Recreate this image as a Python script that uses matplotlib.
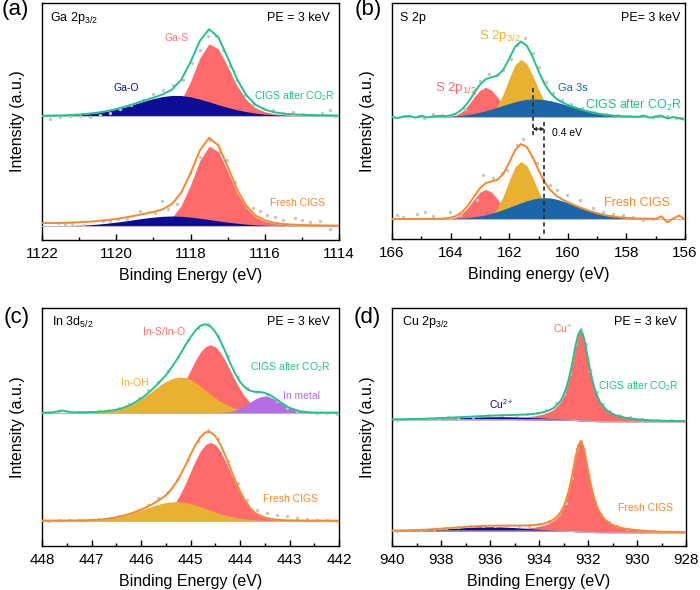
import numpy as np
import matplotlib
matplotlib.use('Agg')
import matplotlib.pyplot as plt
from matplotlib.ticker import MultipleLocator, FormatStrFormatter

plt.rcParams['font.family'] = ['Liberation Sans', 'DejaVu Sans']
plt.rcParams['mathtext.fontset'] = 'custom'
plt.rcParams['mathtext.rm'] = 'Liberation Sans'

# colours
GREEN = '#1ec48c'
ORANGE = '#f7892b'
RED = '#ff6b6b'
NAVY = '#0c0c94'
GOLD = '#e9b12f'
BLUE = '#1b66a8'
PURPLE = '#b56ce6'
DOT = '#c4c4ca'
BASE = '#b8b8b8'

# ---------------- (a) Ga 2p3/2 ----------------
ga_energy = np.arange(1122.0, 1113.99, -0.25)
ga_after_gas = [0.1, 0.1, 0.1, 0.2, 0.2, 0.2, 0.2, 0.3, 0.3, 0.4, 0.5, 0.6, 1.0, 2.1, 5.8, 15.8, 34.7,
                58.2, 72.6, 67.4, 49.8, 30.7, 16.6, 8.4, 4.6, 2.6, 1.6, 1.2, 0.9, 0.7, 0.6, 0.5, 0.4]
ga_after_gao = [0.5, 0.6, 0.8, 1.1, 1.6, 2.4, 3.5, 5.0, 7.0, 9.4, 12.2, 15.1, 17.7, 19.8, 20.9, 20.8, 19.5,
                17.2, 14.5, 11.6, 8.9, 6.6, 4.7, 3.2, 2.2, 1.5, 1.1, 0.8, 0.6, 0.5, 0.4, 0.4, 0.3]
ga_fresh_gas = [0.2, 0.2, 0.2, 0.2, 0.3, 0.3, 0.4, 0.4, 0.5, 0.7, 0.8, 1.1, 1.7, 3.5, 8.7, 20.7, 41.3,
                65.6, 80.2, 74.6, 55.0, 34.0, 18.4, 9.3, 5.0, 2.9, 1.8, 1.3, 1.0, 0.8, 0.7, 0.6, 0.5]
ga_fresh_gao = [0.3, 0.4, 0.5, 0.7, 1.1, 1.5, 2.2, 3.1, 4.2, 5.4, 6.8, 8.1, 9.2, 10.0, 10.3, 10.0, 9.2,
                8.1, 6.8, 5.4, 4.2, 3.1, 2.2, 1.5, 1.1, 0.7, 0.5, 0.4, 0.3, 0.25, 0.2, 0.2, 0.2]
ga_fresh_bg = [2.7, 2.7, 2.7, 2.7, 2.7, 2.7, 2.7, 2.7, 2.7, 2.8, 3.0, 3.3, 3.5, 3.5, 3.3, 3.0, 2.5,
               2.1, 1.5, 0.9, 0.5, 0.25, 0.1, 0, 0, 0, 0, 0, 0, 0, 0, 0, 0]
ga_after_dot_e = [1121.78, 1121.52, 1121.25, 1120.98, 1120.71, 1120.44, 1120.17, 1119.9, 1119.59, 1119.27,
                  1119.0, 1118.73, 1118.46, 1118.21, 1117.97, 1117.74, 1117.52, 1117.31, 1117.12, 1116.94,
                  1116.74, 1116.53, 1116.31, 1116.04, 1115.77, 1115.5, 1115.23, 1114.96, 1114.69, 1114.47,
                  1114.24, 1114.11]
ga_after_dot_y = [-2.3, -1.0, 0.3, 0.0, -0.3, 1.3, 3.3, 7.3, 11.3, 16.7, 22.7, 26.0, 31.7, 36.7, 53.3, 66.7,
                  80.7, 80.0, 66.7, 50.7, 36.7, 21.7, 12.7, 8.3, 6.0, 3.3, 4.3, 2.7, 1.0, 3.0, 6.7, 0.7]
ga_fresh_dot_e = [1121.56, 1121.38, 1121.2, 1120.89, 1120.35, 1120.17, 1119.94, 1119.72, 1119.36, 1118.96,
                  1118.76, 1118.6, 1118.37, 1118.01, 1117.74, 1117.48, 1117.21, 1117.03, 1116.8, 1116.49,
                  1116.31, 1116.13, 1115.95, 1115.73, 1115.5, 1115.19, 1115.01, 1114.78, 1114.51, 1114.24]
ga_fresh_dot_y = [3.7, 2.3, 2.3, 1.3, 5.3, 5.7, 7.0, 7.7, 15.3, 13.0, 25.3, 17.0, 22.3, 53.0, 69.7, 86.3,
                  74.7, 66.3, 44.7, 19.7, 18.0, 15.7, 11.3, 9.7, 6.3, 8.0, 6.3, 4.3, 5.3, -2.3]

# ---------------- (b) S 2p ----------------
s_energy = np.linspace(166.0, 156.0, 51)
s_after_s12 = [0] * 9 + [0.2, 0.8, 2.4, 6.0, 12.2, 20.1, 27.1, 30.0, 27.1, 20.1, 12.2, 6.0, 2.4, 0.8, 0.2] + [0] * 27
s_after_s32 = [0] * 14 + [0.1, 0.4, 1.6, 4.7, 11.6, 23.5, 38.8, 52.5, 58.0, 53.5, 42.0, 28.0, 16.0, 8.0,
                          3.5, 1.5, 0.6, 0.2] + [0] * 19
s_after_ga3s = [0.2, 0.3, 0.3, 0.3, 0.4, 0.4, 0.5, 0.6, 0.7, 0.9, 1.2, 1.6, 2.2, 2.9, 3.9, 5.1, 6.6, 8.3,
                10.1, 12.0, 13.9, 15.6, 17.0, 18.0, 18.3, 18.2, 17.6, 16.6, 15.2, 13.6, 11.8, 10.0, 8.3,
                6.6, 5.1, 3.9, 2.9, 2.2, 1.6, 1.2, 0.9, 0.7, 0.6, 0.5, 0.4, 0.4, 0.3, 0.3, 0.3, 0.2, 0.2]
s_after_noise = [0, -1.0, 0.7, 1.0, -0.7, 1.3, -0.7, 0.3, 0.7, 0, 0] + [0] * 31 + \
                [0, 1.2, -0.8, 0.5, 1.3, -1.5, 0, -1.2, -2.7]
s_fresh_s12 = [0] * 9 + [0.2, 0.8, 2.4, 6.0, 12.2, 20.1, 27.1, 30.0, 27.1, 20.1, 12.2, 6.0, 2.4, 0.8, 0.2] + [0] * 27
s_fresh_s32 = [0] * 14 + [0.1, 0.4, 1.6, 4.7, 11.6, 23.5, 38.8, 52.5, 58.0, 53.5, 42.0, 28.0, 16.0, 8.0,
                          3.5, 1.5, 0.6, 0.2] + [0] * 19
s_fresh_ga3s = [0.2, 0.3, 0.3, 0.3, 0.4, 0.4, 0.5, 0.5, 0.6, 0.7, 0.8, 1.1, 1.4, 1.9, 2.6, 3.4, 4.6, 6.1,
                7.8, 9.8, 12.0, 14.2, 16.5, 18.5, 20.2, 21.3, 21.7, 21.3, 20.2, 18.5, 16.5, 14.2, 12.0,
                9.8, 7.8, 6.1, 4.6, 3.4, 2.6, 1.9, 1.4, 1.1, 0.8, 0.7, 0.6, 0.5, 0.5, 0.4, 0.4, 0.3, 0.3]
s_fresh_noise = [0] * 45 + [0, 2.5, -3.5, 0.5, 3.5, -0.5]
s_after_dot_e = [165.4, 164.9, 164.6, 164.3, 163.9, 163.5, 163.2, 163.0, 162.7, 162.4, 162.2, 161.95,
                 161.75, 161.45, 161.2, 161.0, 160.75, 160.5, 160.2, 159.9, 159.5, 159.1, 158.7, 158.3,
                 157.9, 157.5, 157.1, 156.6, 156.3]
s_after_dot_y = [1.0, -0.5, 3.0, 2.0, 3.5, 8.0, 24.0, 36.0, 43.0, 42.0, 47.0, 58.0, 72.0, 79.0, 64.0,
                 50.0, 35.0, 24.0, 17.0, 13.0, 9.0, 5.5, 3.0, 2.0, 1.0, 1.5, 0.5, 1.0, -1.0]
s_fresh_dot_e = [165.84, 165.61, 165.16, 164.87, 164.59, 164.02, 163.68, 163.11, 162.88, 162.54, 162.26,
                 162.09, 161.75, 161.52, 161.23, 161.06, 160.83, 160.61, 160.38, 160.04, 159.58, 159.13,
                 158.79, 158.45, 158.1, 157.76, 157.42, 157.08]
s_fresh_dot_y = [4.3, 2.7, 5.3, 7.7, 3.3, 7.7, 4.3, 19.3, 44.3, 41.0, 46.0, 49.3, 74.3, 80.0, 62.7, 56.0,
                 41.0, 34.3, 29.3, 24.3, 19.3, 11.0, 7.7, 5.3, 4.3, 2.7, -0.7, 0.0]
ga3s_peak_e = [161.2, 160.8]

# ---------------- (c) In 3d5/2 ----------------
in_energy = [448.0, 447.8, 447.6, 447.4, 447.2, 447.0, 446.8, 446.6, 446.4, 446.2,
             446.0, 445.9, 445.8, 445.7, 445.6, 445.5, 445.4, 445.3, 445.2, 445.1,
             445.0, 444.9, 444.8, 444.7, 444.6, 444.5, 444.4, 444.3, 444.2, 444.1,
             444.0, 443.9, 443.8, 443.7, 443.6, 443.5, 443.4, 443.3, 443.2, 443.1,
             443.0, 442.8, 442.6, 442.4, 442.2, 442.0]
in_after_ins = [0, 0, 0, 0, 0, 0, 0, 0, 0.1, 0.2,
                0.5, 0.9, 1.5, 2.5, 4.1, 6.2, 10.3, 16.1, 23.5, 32.6, 42.4, 52.2, 60.5, 66.0, 68.0,
                66.0, 60.5, 52.2, 42.4, 32.6, 23.5, 16.1, 10.3, 6.2, 4.1, 2.5, 1.5, 0.9, 0.5, 0.3, 0.2,
                0.1, 0, 0, 0, 0]
in_after_inoh = [0.1, 0.1, 0.2, 0.3, 0.4, 0.6, 1.1, 2.0, 4.0, 7.8,
                 13.5, 16.9, 20.6, 24.4, 28.0, 31.1, 33.6, 35.2, 35.7, 35.2, 33.0, 30.0, 26.5, 22.5,
                 18.5, 14.8, 11.5, 8.6, 6.2, 4.3, 2.9, 2.0, 1.5, 1.1, 0.8, 0.6, 0.5, 0.4, 0.35, 0.3, 0.25,
                 0.2, 0.1, 0.1, 0.1, 0.1]
in_after_metal = [0] * 25 + [0.1, 0.2, 0.5, 1.2, 2.4, 4.4, 7.1, 10.3, 13.5, 15.8, 16.7, 15.8, 13.5,
                             10.3, 7.1, 4.4] + [1.2, 0.2, 0, 0, 0]
in_after_noise = [0, 0, 2.0] + [0] * 43
in_fresh_ins = [0, 0, 0, 0, 0, 0, 0, 0, 0.1, 0.2,
                0.6, 1.0, 1.7, 2.9, 4.7, 7.2, 11.9, 18.5, 27.1, 37.5, 48.9, 60.1, 69.7, 76.1, 78.3,
                76.1, 69.7, 60.1, 48.9, 37.5, 27.1, 18.5, 11.9, 7.2, 4.7, 2.9, 1.7, 1.0, 0.6, 0.3, 0.2,
                0.1, 0, 0, 0, 0]
in_fresh_inoh = [0.1, 0.1, 0.15, 0.2, 0.3, 0.6, 1.2, 2.4, 4.3, 7.0,
                 10.4, 12.2, 14.0, 15.6, 17.0, 18.1, 18.8, 19.0, 18.8, 18.1, 17.0, 15.6, 14.0, 12.2,
                 10.4, 8.6, 7.0, 5.5, 4.3, 3.2, 2.4, 1.7, 1.2, 0.8, 0.6, 0.4, 0.3, 0.25, 0.2, 0.2, 0.15,
                 0.1, 0.1, 0.1, 0, 0]
in_after_dot_e = [447.85, 447.65, 447.45, 447.25, 447.05, 446.85, 446.65, 446.45, 446.25, 446.05, 445.85,
                  445.65, 445.45, 445.25, 445.05, 444.85, 444.65, 444.45, 444.25, 444.05, 443.85, 443.65,
                  443.45, 443.25, 443.05, 442.85, 442.65, 442.45, 442.25, 442.05]
in_after_dot_y = [0.5, 1.0, 0.5, 1.0, 0.8, 1.5, 3.0, 5.0, 9.0, 15.0, 23.0, 31.0, 42.0, 56.0, 73.0, 85.0,
                  89.0, 77.0, 57.0, 36.0, 25.0, 21.0, 17.5, 12.0, 5.0, 2.0, 0.5, 0.0, -0.5, -1.0]
in_fresh_dot_e = in_after_dot_e
in_fresh_dot_y = [0.0, 0.5, 0.3, 0.5, 0.8, 1.5, 2.5, 4.5, 7.0, 11.0, 16.0, 23.0, 29.0, 42.0, 61.0, 80.0,
                  91.0, 82.0, 60.0, 38.0, 21.0, 11.0, 7.5, 5.5, 4.5, 3.0, 2.0, 1.0, 0.5, 0.0]

# ---------------- (d) Cu 2p3/2 ----------------
cu_energy = [940.0, 939.5, 939.0, 938.5, 938.0, 937.5, 937.0, 936.5, 936.0, 935.5, 935.0, 934.5,
             934.2, 934.0, 933.8, 933.6, 933.4, 933.2,
             933.1, 933.0, 932.9, 932.8, 932.7, 932.6, 932.5, 932.4, 932.3, 932.2, 932.1, 932.0,
             931.9, 931.8, 931.7, 931.6, 931.5,
             931.3, 931.1, 930.9, 930.7, 930.5,
             930.0, 929.5, 929.0, 928.5, 928.0]
cu_after_cu1 = [0.3, 0.3, 0.35, 0.4, 0.5, 0.6, 0.7, 0.8, 1.1, 1.4, 2.0, 2.9,
                3.9, 4.8, 6.1, 7.9, 10.7, 15.5,
                19.1, 24.0, 30.5, 38.9, 49.5, 62.0, 75.1, 85.8, 90.0, 85.8, 75.1, 62.0, 49.5, 38.9,
                30.5, 24.0, 19.1,
                12.8, 9.2, 6.9, 5.4, 4.3,
                2.7, 1.8, 1.3, 1.0, 0.8]
cu_after_cu2 = [0.1, 0.2, 0.4, 0.7, 1.1, 1.6, 2.1, 2.6, 2.9, 3.0, 2.8, 2.4,
                2.1, 1.9, 1.7, 1.5, 1.3, 1.1,
                1.0, 0.93, 0.85, 0.77, 0.7, 0.63, 0.57, 0.51, 0.45, 0.4, 0.36, 0.32, 0.28, 0.25,
                0.22, 0.19, 0.16,
                0.12, 0.09, 0.07, 0.05, 0.03,
                0.01, 0, 0, 0, 0]
cu_after_base = [2.3, 2.3, 2.3, 2.3, 2.3, 2.3, 2.3, 2.3, 2.3, 2.3, 2.3, 2.2,
                 2.2, 2.2, 2.1, 2.1, 2.0, 2.0,
                 1.9, 1.9, 1.8, 1.8, 1.7, 1.6, 1.5, 1.3, 1.2, 1.0, 0.9, 0.7, 0.6, 0.5, 0.4, 0.35, 0.3,
                 0.2, 0.15, 0.1, 0.1, 0.05,
                 0, 0, 0, 0, 0]
cu_fresh_cu1 = [0.3, 0.3, 0.35, 0.4, 0.5, 0.6, 0.7, 0.8, 1.1, 1.4, 2.0, 2.9,
                3.9, 4.8, 6.1, 7.9, 10.7, 15.5,
                19.1, 24.0, 30.5, 38.9, 49.5, 62.0, 75.3, 86.2, 90.5, 86.2, 75.3, 62.0, 49.5, 38.9,
                30.5, 24.0, 19.1,
                12.8, 9.2, 6.9, 5.4, 4.3,
                2.7, 1.8, 1.3, 1.0, 0.8]
cu_fresh_cu2 = [0.14, 0.3, 0.6, 1.1, 1.8, 2.6, 3.4, 4.0, 4.2, 4.0, 3.4, 2.6,
                2.1, 1.8, 1.5, 1.2, 1.0, 0.8,
                0.7, 0.6, 0.55, 0.47, 0.41, 0.35, 0.3, 0.27, 0.23, 0.2, 0.17, 0.14, 0.12, 0.1,
                0.09, 0.08, 0.07,
                0.05, 0.03, 0.02, 0.01, 0,
                0, 0, 0, 0, 0]
cu_fresh_base = [2.0, 2.0, 2.0, 2.0, 2.0, 2.0, 2.0, 2.0, 2.0, 2.0, 2.0, 2.0,
                 1.9, 1.9, 1.8, 1.8, 1.75, 1.75,
                 1.7, 1.7, 1.6, 1.6, 1.5, 1.4, 1.3, 1.15, 1.0, 0.9, 0.75, 0.6, 0.5, 0.45, 0.35, 0.3, 0.25,
                 0.2, 0.15, 0.1, 0.1, 0.05,
                 0, 0, 0, 0, 0]
cu_after_dot_e = [939.8, 939.4, 939.0, 938.5, 938.1, 937.7, 937.3, 936.7, 936.1, 935.5, 934.9, 934.5,
                  934.1, 933.7, 933.3, 933.0, 932.75, 932.5, 932.3, 932.1, 931.9, 931.65, 931.4, 931.1,
                  930.7, 930.3, 929.8, 929.2, 928.6, 928.1]
cu_after_dot_y = [1.5, 3.0, 2.5, 3.2, 3.8, 4.5, 4.2, 5.2, 6.5, 6.7, 7.0, 7.5, 8.5, 12.0, 19.0, 28.0, 48.0,
                  78.0, 93.0, 78.0, 52.0, 30.0, 18.0, 11.0, 6.5, 4.5, 3.0, 2.0, 1.5, 0.5]
cu_fresh_dot_e = [939.8, 939.3, 938.8, 938.3, 937.8, 937.3, 936.8, 936.3, 935.8, 935.3, 934.8, 934.4,
                  934.0, 933.6, 933.2, 932.9, 932.65, 932.45, 932.3, 932.15, 931.95, 931.7, 931.45, 931.15,
                  930.8, 930.4, 929.9, 929.3, 928.7, 928.2]
cu_fresh_dot_y = [1.5, 2.5, 2.8, 3.5, 4.5, 5.5, 6.5, 7.0, 6.8, 6.5, 6.5, 7.0, 8.5, 12.0, 19.0, 30.0, 55.0,
                  84.0, 92.0, 84.0, 58.0, 32.0, 19.0, 11.0, 7.0, 4.0, 2.5, 1.5, 1.0, 0.5]


def draw_spectrum(ax, energy, offset, comps, colors, line_color, dot_e, dot_y, base=None, extra=None):
    energy = np.asarray(energy, dtype=float)
    base = np.zeros(len(energy)) if base is None else np.asarray(base, dtype=float)
    total = base.copy()
    for comp, col in zip(comps, colors):
        comp = np.asarray(comp, dtype=float)
        ax.fill_between(energy, offset + base, offset + base + comp, color=col, lw=0, zorder=2)
        total = total + comp
    if extra is not None:
        total = total + np.asarray(extra, dtype=float)
    ax.plot(energy, offset + base, color=BASE, lw=0.8, zorder=3)
    ax.plot(dot_e, offset + np.asarray(dot_y), 'o', ms=2.4, color=DOT, mec='none', zorder=4)
    ax.plot(energy, offset + total, color=line_color, lw=1.4, zorder=5)


def style_axes(ax, xlim, ylim, major, minor, xlabel):
    ax.set_xlim(*xlim)
    ax.set_ylim(*ylim)
    ax.xaxis.set_major_locator(MultipleLocator(major))
    ax.xaxis.set_minor_locator(MultipleLocator(minor))
    ax.xaxis.set_major_formatter(FormatStrFormatter('%d'))
    ax.set_yticks([])
    ax.tick_params(axis='x', which='both', direction='in', top=False, labelsize=11, pad=5)
    ax.tick_params(axis='x', which='major', length=4, width=1)
    ax.tick_params(axis='x', which='minor', length=2.5, width=1)
    ax.set_xlabel(xlabel, fontsize=11.5, labelpad=5)
    ax.set_ylabel('Intensity (a.u.)', fontsize=11.5, labelpad=12)
    for sp in ax.spines.values():
        sp.set_linewidth(1.0)


CO2R = 'CIGS after CO$_{\\mathregular{2}}$R'

fig = plt.figure(figsize=(7.0, 5.9), dpi=100)
ax_a = fig.add_axes([0.060, 0.5932, 0.4243, 0.4017])
ax_b = fig.add_axes([0.560, 0.5949, 0.4186, 0.4000])
ax_c = fig.add_axes([0.060, 0.0746, 0.4243, 0.4034])
ax_d = fig.add_axes([0.560, 0.0746, 0.4200, 0.4034])

# (a)
draw_spectrum(ax_a, ga_energy, 110, [ga_after_gas, ga_after_gao], [RED, NAVY], GREEN,
              ga_after_dot_e, ga_after_dot_y)
draw_spectrum(ax_a, ga_energy, 0, [ga_fresh_gas, ga_fresh_gao], [RED, NAVY], ORANGE,
              ga_fresh_dot_e, ga_fresh_dot_y, extra=ga_fresh_bg)
style_axes(ax_a, (1122, 1114), (-13.7, 223.3), 2, 1, 'Binding Energy (eV)')
ax_a.text(1121.78, 208.8, 'Ga 2p$_{\\mathregular{3/2}}$', fontsize=9, va='center')
ax_a.text(1114.24, 208.8, 'PE = 3 keV', fontsize=9, va='center', ha='right')
ax_a.text(1118.38, 188.3, 'Ga-S', fontsize=7.5, color=RED, ha='center', va='center')
ax_a.text(1119.72, 138.3, 'Ga-O', fontsize=7.5, color=NAVY, ha='center', va='center')
ax_a.text(1114.11, 130.3, CO2R, fontsize=7.5, color=GREEN, ha='right', va='center')
ax_a.text(1115.12, 23.3, 'Fresh CIGS', fontsize=7.5, color=ORANGE, ha='center', va='center')

# (b)
draw_spectrum(ax_b, s_energy, 102, [s_after_s12, s_after_s32, s_after_ga3s], [RED, GOLD, BLUE], GREEN,
              s_after_dot_e, s_after_dot_y, extra=s_after_noise)
draw_spectrum(ax_b, s_energy, 0, [s_fresh_s12, s_fresh_s32, s_fresh_ga3s], [RED, GOLD, BLUE], ORANGE,
              s_fresh_dot_e, s_fresh_dot_y, extra=s_fresh_noise)
style_axes(ax_b, (166, 156), (-19.7, 216.3), 2, 1, 'Binding energy (eV)')
ax_b.plot([ga3s_peak_e[0]] * 2, [131.3, 82.3], ls=(0, (2.5, 1.8)), color='#2a2a2a', lw=1.2, zorder=6)
ax_b.plot([ga3s_peak_e[1]] * 2, [97.3, -15.7], ls=(0, (2.5, 1.8)), color='#2a2a2a', lw=1.2, zorder=6)
ax_b.annotate('', xy=(ga3s_peak_e[1], 90.3), xytext=(ga3s_peak_e[0], 90.3),
              arrowprops=dict(arrowstyle='<|-|>', lw=0.8, color='#222222', shrinkA=0, shrinkB=0,
                              mutation_scale=5))
ax_b.text(160.03, 86.8, '0.4 eV', fontsize=7.5, ha='center', va='center')
ax_b.text(165.73, 201.8, 'S 2p', fontsize=9, va='center')
ax_b.text(156.17, 201.8, 'PE= 3 keV', fontsize=9, va='center', ha='right')
ax_b.text(162.31, 183.8, 'S 2p$_{\\mathregular{3/2}}$', fontsize=9.5, color=GOLD, ha='center', va='center')
ax_b.text(163.82, 131.8, 'S 2p$_{\\mathregular{1/2}}$', fontsize=9.5, color=RED, ha='center', va='center')
ax_b.text(159.84, 131.3, 'Ga 3s', fontsize=8, color=BLUE, ha='center', va='center')
ax_b.text(156.1, 113.8, CO2R, fontsize=9, color=GREEN, ha='right', va='center')
ax_b.text(157.64, 16.8, 'Fresh CIGS', fontsize=9, color=ORANGE, ha='center', va='center')

# (c)
draw_spectrum(ax_c, in_energy, 108, [in_after_ins, in_after_inoh, in_after_metal], [RED, GOLD, PURPLE],
              GREEN, in_after_dot_e, in_after_dot_y, extra=in_after_noise)
draw_spectrum(ax_c, in_energy, 0, [in_fresh_ins, in_fresh_inoh], [RED, GOLD], ORANGE,
              in_fresh_dot_e, in_fresh_dot_y)
style_axes(ax_c, (448, 442), (-25.3, 212.7), 1, 0.5, 'Binding Energy (eV)')
ax_c.text(447.8, 198.7, 'In 3d$_{\\mathregular{5/2}}$', fontsize=9, va='center')
ax_c.text(442.18, 198.7, 'PE = 3 keV', fontsize=9, va='center', ha='right')
ax_c.text(445.54, 188.7, 'In-S/In-O', fontsize=7.5, color=RED, ha='center', va='center')
ax_c.text(446.13, 137.7, 'In-OH', fontsize=7.5, color=GOLD, ha='center', va='center')
ax_c.text(442.17, 153.2, CO2R, fontsize=7.5, color=GREEN, ha='right', va='center')
ax_c.text(442.75, 124.2, 'In metal', fontsize=7.5, color=PURPLE, ha='center', va='center')
ax_c.text(442.97, 21.7, 'Fresh CIGS', fontsize=7.5, color=ORANGE, ha='center', va='center')

# (d)
draw_spectrum(ax_d, cu_energy, 111, [cu_after_cu1, cu_after_cu2], [RED, NAVY], GREEN,
              cu_after_dot_e, cu_after_dot_y, base=cu_after_base)
draw_spectrum(ax_d, cu_energy, 0, [cu_fresh_cu1, cu_fresh_cu2], [RED, NAVY], ORANGE,
              cu_fresh_dot_e, cu_fresh_dot_y, base=cu_fresh_base)
style_axes(ax_d, (940, 928), (-13, 225), 2, 1, 'Binding Energy (eV)')
ax_d.text(939.6, 211, 'Cu 2p$_{\\mathregular{3/2}}$', fontsize=9, va='center')
ax_d.text(928.36, 211, 'PE = 3 keV', fontsize=9, va='center', ha='right')
ax_d.text(933.03, 204, 'Cu$^{\\mathregular{+}}$', fontsize=7.5, color=RED, ha='center', va='center')
ax_d.text(935.54, 129, 'Cu$^{\\mathregular{2+}}$', fontsize=7.5, color=NAVY, ha='center', va='center')
ax_d.text(928.3, 147, CO2R, fontsize=7.5, color=GREEN, ha='right', va='center')
ax_d.text(929.66, 25, 'Fresh CIGS', fontsize=7.5, color=ORANGE, ha='center', va='center')

# panel letters
for lab, px, py in [('(a)', 15, 9), ('(b)', 368, 9), ('(c)', 17, 317), ('(d)', 367, 317)]:
    fig.text(px / 700, 1 - py / 590, lab, fontsize=16, ha='center', va='center')

fig.savefig('out.png', dpi=100)
